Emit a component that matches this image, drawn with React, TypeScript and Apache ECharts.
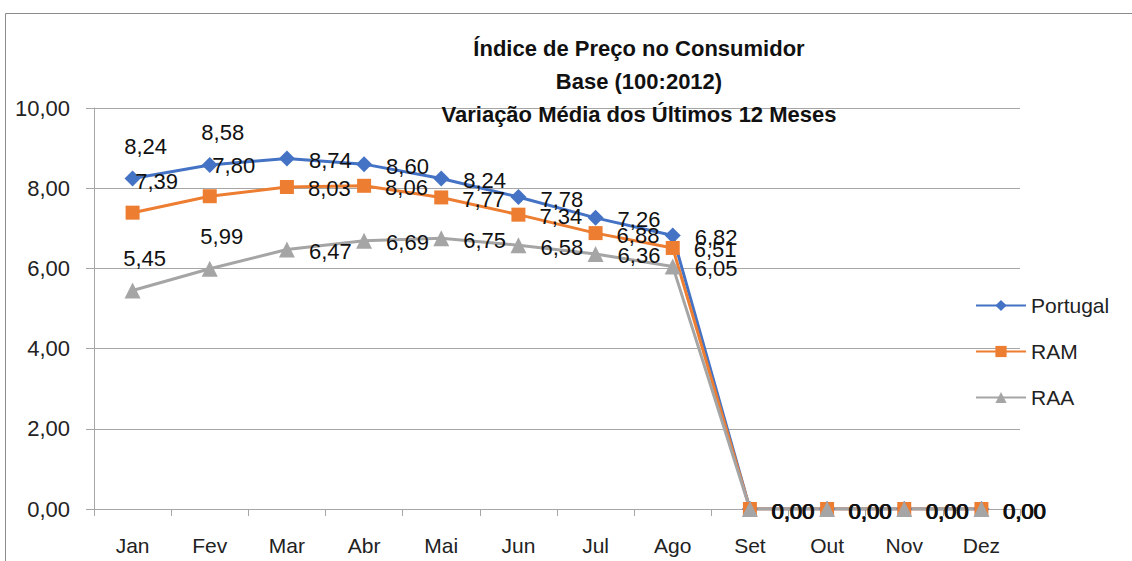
import React, { useEffect, useRef } from "react";
import * as echarts from "echarts";

const categories = ["Jan", "Fev", "Mar", "Abr", "Mai", "Jun", "Jul", "Ago", "Set", "Out", "Nov", "Dez"];
const portugal = [8.24, 8.58, 8.74, 8.6, 8.24, 7.78, 7.26, 6.82, 0, 0, 0, 0];
const ram = [7.39, 7.8, 8.03, 8.06, 7.77, 7.34, 6.88, 6.51, 0, 0, 0, 0];
const raa = [5.45, 5.99, 6.47, 6.69, 6.75, 6.58, 6.36, 6.05, 0, 0, 0, 0];
const titleLines = ["Índice de Preço no Consumidor", "Base (100:2012)", "Variação Média dos Últimos 12 Meses"];

const FONT = "'Liberation Sans', Arial, sans-serif";
const fmt = (v: number) => v.toFixed(2).replace(".", ",");

export default function App() {
  const ref = useRef<HTMLDivElement>(null);
  useEffect(() => {
    if (!ref.current) return;
    const chart = echarts.init(ref.current, null, { renderer: "svg" });

    const mkData = (vals: number[], topOffsetX: number) =>
      vals.map((v, i) => ({
        value: v,
        label:
          i < 2
            ? { position: "top", distance: 13, offset: [topOffsetX, 0] }
            : { position: "right", distance: 14, offset: [0, 2] },
      }));

    const mkSeries = (name: string, vals: number[], color: string, symbol: string, size: number, topOffsetX: number) => ({
      name,
      type: "line",
      data: mkData(vals, topOffsetX),
      symbol,
      symbolSize: size,
      showAllSymbol: true,
      lineStyle: { color, width: 3 },
      itemStyle: { color },
      label: {
        show: true,
        formatter: (p: any) => fmt(p.value),
        fontFamily: FONT,
        fontSize: 22,
        color: "#111",
      },
    });

    chart.setOption({
      animation: false,
      textStyle: { fontFamily: FONT },
      title: {
        text: titleLines.join("\n"),
        left: 634,
        top: 27,
        textAlign: "center",
        textStyle: { fontFamily: FONT, fontWeight: "bold", fontSize: 22, lineHeight: 33, color: "#111" },
      },
      graphic: [
        {
          type: "rect",
          shape: { x: 5.5, y: 13.5, width: 1300, height: 700 },
          style: { fill: "none", stroke: "#8c8c8c", lineWidth: 1 },
          silent: true,
          z: -10,
        },
      ],
      legend: {
        orient: "vertical",
        left: 970,
        top: 290,
        itemGap: 25,
        itemWidth: 50,
        itemHeight: 14,
        textStyle: { fontFamily: FONT, fontSize: 21, color: "#222" },
        data: ["Portugal", "RAM", "RAA"],
      },
      grid: { left: 94, right: 112, top: 108, bottom: 52, containLabel: false },
      xAxis: {
        type: "category",
        data: categories,
        boundaryGap: true,
        axisLine: { lineStyle: { color: "#a6a6a6", width: 1 } },
        axisTick: { show: true, length: 7, lineStyle: { color: "#a6a6a6" } },
        axisLabel: { fontFamily: FONT, fontSize: 21, color: "#222", margin: 26 },
      },
      yAxis: {
        type: "value",
        min: 0,
        max: 10,
        interval: 2,
        axisLine: { show: true, lineStyle: { color: "#a6a6a6", width: 1 } },
        axisTick: { show: true, length: 8, lineStyle: { color: "#a6a6a6" } },
        splitLine: { lineStyle: { color: "#a6a6a6", width: 1 } },
        axisLabel: { fontFamily: FONT, fontSize: 22, color: "#222", margin: 24, formatter: (v: number) => fmt(v) },
      },
      series: [
        mkSeries("Portugal", portugal, "#4472C4", "diamond", 16, 13),
        mkSeries("RAM", ram, "#ED7D31", "rect", 14, 24),
        mkSeries("RAA", raa, "#A5A5A5", "triangle", 16, 12),
      ],
    });
    return () => chart.dispose();
  }, []);
  return <div ref={ref} style={{ width: 1132, height: 561, position: "absolute", left: 0, top: 0 }} />;
}
